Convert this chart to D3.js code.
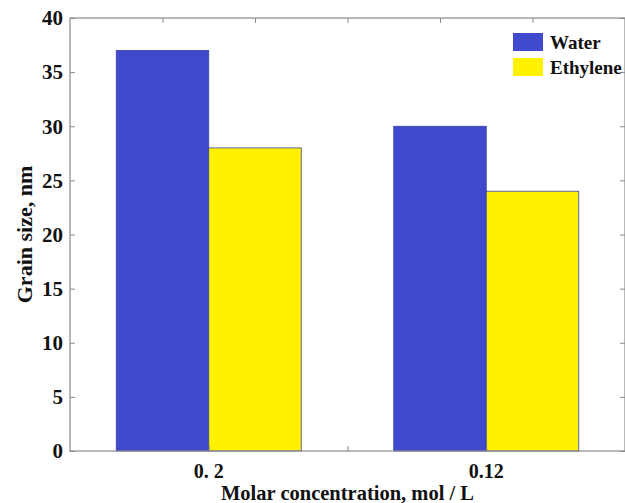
<!DOCTYPE html>
<html>
<head>
    <meta charset="utf-8">
    <title>Grain size</title>
    <script src="https://cdn.jsdelivr.net/npm/d3@7/dist/d3.min.js"></script>
    <style>
        body { margin: 0; background: white; }
        svg text { font-family: "Liberation Serif", "Times New Roman", serif; font-weight: bold; fill: #111; }
        .axis path, .axis line { stroke: #8a8a8a; }
    </style>
</head>
<body>
    <svg id="mainsvg" width="625" height="503"></svg>
    <script>
        // data
        const categories = ['0. 2', '0.12'];
        const seriesNames = ['Water', 'Ethylene'];
        const water = [37, 30];
        const ethylene = [28, 24];
        const yTicks = [0, 5, 10, 15, 20, 25, 30, 35, 40];
        const colors = ['#4049cc', '#fff200'];

        const svg = d3.select('#mainsvg');
        const mLeft = 70, mRight = 625, mTop = 18, mBottom = 451;

        const x = d3.scaleBand().domain(categories).range([mLeft, mRight])
            .paddingInner(1 / 3).paddingOuter(1 / 6);
        const xSub = d3.scaleBand().domain(seriesNames).range([0, x.bandwidth()]);
        const y = d3.scaleLinear().domain([0, 40]).range([mBottom, mTop]);

        const table = categories.map((c, i) => ({ cat: c, values: [water[i], ethylene[i]] }));

        // bars
        const groups = svg.selectAll('.grp').data(table).join('g')
            .attr('class', 'grp')
            .attr('transform', d => `translate(${x(d.cat)},0)`);
        groups.selectAll('rect')
            .data(d => d.values.map((v, j) => ({ name: seriesNames[j], v: v, j: j })))
            .join('rect')
            .attr('x', d => xSub(d.name))
            .attr('y', d => y(d.v))
            .attr('width', xSub.bandwidth())
            .attr('height', d => y(0) - y(d.v))
            .attr('fill', d => colors[d.j])
            .attr('stroke', '#3b40a8')
            .attr('stroke-width', 0.8);

        // box axes, ticks pointing inward
        const tickLen = 5;
        svg.append('g').attr('class', 'axis')
            .attr('transform', `translate(${mLeft},0)`)
            .call(d3.axisRight(y).tickValues(yTicks).tickSize(tickLen).tickFormat(''))
            .call(g => g.select('.domain').remove());
        svg.append('g').attr('class', 'axis')
            .attr('transform', `translate(${mRight},0)`)
            .call(d3.axisLeft(y).tickValues(yTicks).tickSize(tickLen).tickFormat(''))
            .call(g => g.select('.domain').remove());

        // bottom ticks at group centres and midpoint
        const xLin = d3.scaleLinear().domain([0.5, 2.5]).range([mLeft, mRight]);
        svg.append('g').attr('class', 'axis')
            .attr('transform', `translate(0,${mBottom})`)
            .call(d3.axisTop(xLin).tickValues([1, 1.5, 2]).tickSize(tickLen).tickFormat(''))
            .call(g => g.select('.domain').remove());
        // top ticks (six equal divisions, as in the original)
        const xTop = d3.scaleLinear().domain([0, 6]).range([mLeft, mRight]);
        svg.append('g').attr('class', 'axis')
            .attr('transform', `translate(0,${mTop})`)
            .call(d3.axisBottom(xTop).tickValues([1, 2, 3, 4, 5]).tickSize(tickLen).tickFormat(''))
            .call(g => g.select('.domain').remove());

        svg.append('rect')
            .attr('x', mLeft).attr('y', mTop)
            .attr('width', mRight - mLeft).attr('height', mBottom - mTop)
            .attr('fill', 'none').attr('stroke', '#8a8a8a').attr('stroke-width', 1.2);

        // y tick labels
        svg.selectAll('.ylab').data(yTicks).join('text')
            .attr('class', 'ylab')
            .attr('x', mLeft - 7)
            .attr('y', d => y(d))
            .attr('dy', '0.35em')
            .attr('text-anchor', 'end')
            .attr('font-size', 21)
            .text(d => d);

        // x tick labels
        svg.selectAll('.xlab').data(categories).join('text')
            .attr('class', 'xlab')
            .attr('x', d => x(d) + x.bandwidth() / 2)
            .attr('y', mBottom + 27)
            .attr('text-anchor', 'middle')
            .attr('font-size', 20)
            .text(d => d);

        // axis titles
        svg.append('text')
            .attr('x', (mLeft + mRight) / 2)
            .attr('y', 500)
            .attr('text-anchor', 'middle')
            .attr('font-size', 20.5)
            .text('Molar concentration, mol / L');
        svg.append('text')
            .attr('transform', `translate(24,${(mTop + mBottom) / 2}) rotate(-90)`)
            .attr('dy', '0.35em')
            .attr('text-anchor', 'middle')
            .attr('font-size', 22)
            .text('Grain size, nm');

        // legend
        const legend = svg.selectAll('.legend').data(seriesNames).join('g')
            .attr('class', 'legend')
            .attr('transform', (d, i) => `translate(513,${33 + i * 25})`);
        legend.append('rect')
            .attr('width', 30).attr('height', 18)
            .attr('fill', (d, i) => colors[i]);
        legend.append('text')
            .attr('x', 37).attr('y', 9)
            .attr('dy', '0.35em')
            .attr('font-size', 19)
            .text(d => d);
    </script>
</body>
</html>
